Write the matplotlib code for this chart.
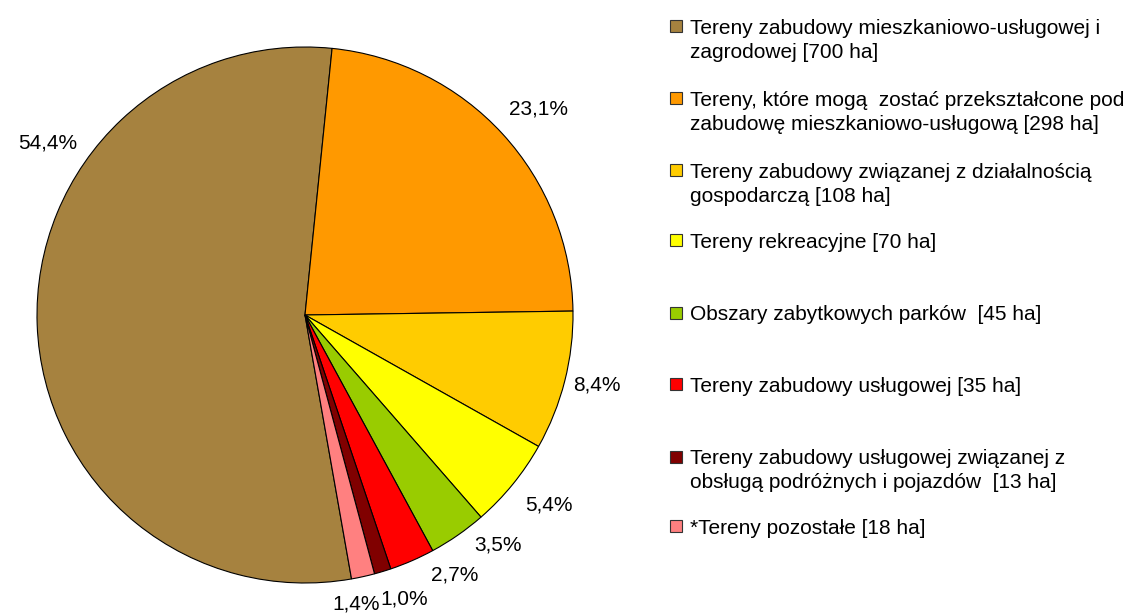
import matplotlib
matplotlib.use("Agg")
import matplotlib.pyplot as plt
from matplotlib.patches import Rectangle

plt.rcParams['font.family'] = ['Liberation Sans', 'DejaVu Sans']

# Area of each land category [ha], in legend order
areas = [700, 298, 108, 70, 45, 35, 13, 18]
# Percentages as printed on the chart (Excel rounded them from the unrounded areas)
pctLabels = ["54,4%", "23,1%", "8,4%", "5,4%", "3,5%", "2,7%", "1,0%", "1,4%"]
labels = [
    "Tereny zabudowy mieszkaniowo-usługowej i\nzagrodowej [700 ha]",
    "Tereny, które mogą  zostać przekształcone pod\nzabudowę mieszkaniowo-usługową [298 ha]",
    "Tereny zabudowy związanej z działalnością\ngospodarczą [108 ha]",
    "Tereny rekreacyjne [70 ha]",
    "Obszary zabytkowych parków  [45 ha]",
    "Tereny zabudowy usługowej [35 ha]",
    "Tereny zabudowy usługowej związanej z\nobsługą podróżnych i pojazdów  [13 ha]",
    "*Tereny pozostałe [18 ha]",
]
colors = ["#A6823F", "#FF9900", "#FFCC00", "#FFFF00", "#99CC00", "#FF0000", "#800000", "#FF8080"]

# Where Excel put the percentage labels (pie data units, radius = 1)
pctPositions = [(-0.96, 0.64), (0.87, 0.77), (1.09, -0.26), (0.91, -0.71),
                (0.72, -0.86), (0.56, -0.97), (0.37, -1.06), (0.19, -1.08)]
# Vertical centre of each legend marker, in pixels from top
legendRows = [26, 98, 170, 240, 313, 384, 457, 526]

W, H = 1141, 616
fig = plt.figure(figsize=(W / 100, H / 100), dpi=100)

# Pie: centre (305, 315) px, radius 268 px
cx, cy, r = 305, 315, 268
ax = fig.add_axes([(cx - r) / W, (H - cy - r) / H, 2 * r / W, 2 * r / H])

wedges, texts = ax.pie(areas, colors=colors, startangle=280, counterclock=False,
                       wedgeprops=dict(edgecolor="black", linewidth=0.8))
ax.set_xlim(-1, 1)
ax.set_ylim(-1, 1)
ax.set_aspect("auto")
ax.axis("off")

for pctText, pos in zip(pctLabels, pctPositions):
    ax.text(pos[0], pos[1], pctText, ha="center", va="center", fontsize=15, color="black")

# Legend drawn by hand so the rows are spaced like in the original
for color, label, row in zip(colors, labels, legendRows):
    fig.add_artist(Rectangle((670 / W, 1 - (row + 6) / H), 12 / W, 12 / H,
                             transform=fig.transFigure, facecolor=color,
                             edgecolor="#333333", linewidth=0.8))
    for i, line in enumerate(label.split("\n")):
        baseline = row + 7.5 + i * 24
        fig.text(690 / W, 1 - baseline / H, line, ha="left", va="baseline",
                 fontsize=15, color="black")

fig.savefig("out.png", dpi=100)
